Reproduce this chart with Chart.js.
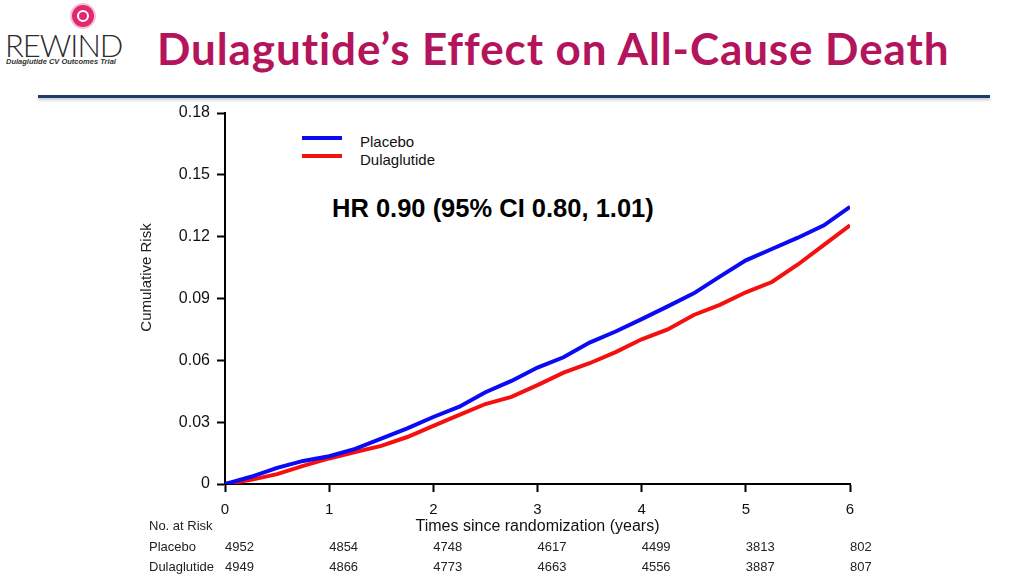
<!DOCTYPE html>
<html>
<head>
<meta charset="utf-8">
<script src="https://cdn.jsdelivr.net/npm/chart.js@4.4.1/dist/chart.umd.min.js"></script>
<style>
  body { margin: 0; width: 1024px; height: 576px; background: #fff; overflow: hidden; position: relative; font-family: "Liberation Sans", Arial, sans-serif; }
  #c { position: absolute; left: 0; top: 0; }
  .abs { position: absolute; white-space: nowrap; line-height: 1; }
  .title { left: 157px; top: 26px; font-family: Lato, sans-serif; font-weight: bold; font-size: 44px; letter-spacing: 0.9px; color: #b3145c; }
  .logo { left: 5px; top: 30px; font-family: Lato, sans-serif; font-weight: 300; font-size: 31px; letter-spacing: -1px; color: #2b2b2b; }
  .logosub { left: 6px; top: 58px; font-size: 7.5px; font-weight: bold; font-style: italic; color: #333; }
  .icon { left: 72px; top: 5px; width: 22px; height: 22px; border-radius: 50%; background: #e2286f; box-shadow: 0 0 0 2px #f7c3d6; }
  .icon div { position: absolute; left: 5px; top: 5px; width: 8px; height: 8px; border: 2px solid #fff; border-radius: 50%; }
  .rule { left: 38px; top: 95px; width: 952px; height: 3px; background: #1f3a6e; box-shadow: 0 2px 3px #c4c4c4; }
  .leg { left: 302px; width: 40px; height: 4px; }
  .legtxt { left: 360px; font-size: 15px; color: #111; }
  .hr { left: 332px; top: 196px; font-size: 25.5px; font-weight: bold; color: #000; }
</style>
</head>
<body>
<div class="abs icon"><div></div></div>
<div class="abs logo">REWIND</div>
<div class="abs logosub">Dulaglutide CV Outcomes Trial</div>
<div class="abs title">Dulagutide’s Effect on All-Cause Death</div>
<div class="abs rule"></div>
<div class="abs leg" style="top:136px;background:#0a0af5;"></div>
<div class="abs leg" style="top:154px;background:#f51010;"></div>
<div class="abs legtxt" style="top:134px;">Placebo</div>
<div class="abs legtxt" style="top:152px;">Dulaglutide</div>
<div class="abs hr">HR 0.90 (95% CI 0.80, 1.01)</div>
<canvas id="c" width="1024" height="576"></canvas>
<script>
var years = [0, 0.25, 0.5, 0.75, 1, 1.25, 1.5, 1.75, 2, 2.25, 2.5, 2.75, 3, 3.25, 3.5, 3.75, 4, 4.25, 4.5, 4.75, 5, 5.25, 5.5, 5.75, 6];
var placebo = [0, 0.0035, 0.0078, 0.0112, 0.0135, 0.0170, 0.0220, 0.0270, 0.0325, 0.0375, 0.0445, 0.0500, 0.0565, 0.0615, 0.0686, 0.0740, 0.0800, 0.0862, 0.0925, 0.1006, 0.1085, 0.1140, 0.1195, 0.1255, 0.1345];
var dulaglutide = [0, 0.0020, 0.0048, 0.0088, 0.0124, 0.0155, 0.0185, 0.0228, 0.0282, 0.0335, 0.0388, 0.0423, 0.0480, 0.0540, 0.0586, 0.0640, 0.0702, 0.0750, 0.0820, 0.0869, 0.0930, 0.0980, 0.1065, 0.1160, 0.1255];
var yTickLabels = ['0', '0.03', '0.06', '0.09', '0.12', '0.15', '0.18'];
var xTickLabels = ['0', '1', '2', '3', '4', '5', '6'];
var riskYears = [0, 1, 2, 3, 4, 5, 6];
var riskPlacebo = [4952, 4854, 4748, 4617, 4499, 3813, 802];
var riskDulaglutide = [4949, 4866, 4773, 4663, 4556, 3887, 807];

var font = '"Liberation Sans", Arial, sans-serif';

function points(vals) {
	var out = [];
	for (var i in years) {
		out.push({x: years[i], y: vals[i]});
	}
	return out;
}

// y title and the numbers-at-risk table under the x axis
var riskTable = {
	id: 'riskTable',
	afterDraw: function(chart) {
		var ctx = chart.ctx;
		var xs = chart.scales.x;
		var area = chart.chartArea;
		ctx.save();
		ctx.fillStyle = '#222';
		ctx.font = '15px ' + font;
		ctx.textAlign = 'center';
		ctx.textBaseline = 'middle';
		ctx.translate(area.left - 78, (area.top + area.bottom) / 2 - 21);
		ctx.rotate(-Math.PI / 2);
		ctx.fillText('Cumulative Risk', 0, 0);
		ctx.restore();

		ctx.save();
		ctx.fillStyle = '#222';
		ctx.font = '13px ' + font;
		ctx.textAlign = 'left';
		ctx.textBaseline = 'middle';
		ctx.fillText('No. at Risk', 149, 526);
		ctx.fillText('Placebo', 149, 547);
		ctx.fillText('Dulaglutide', 149, 567);
		for (var i in riskYears) {
			var px = xs.getPixelForValue(riskYears[i]);
			ctx.fillText(String(riskPlacebo[i]), px, 547);
			ctx.fillText(String(riskDulaglutide[i]), px, 567);
		}
		ctx.restore();
	}
};

var ctx = document.getElementById('c');

var chart = new Chart(ctx, {
	type: 'line',
	data: {
		datasets: [
			{
				label: 'Placebo',
				data: points(placebo),
				borderColor: '#0a0af5',
				borderWidth: 4,
				pointRadius: 0,
				tension: 0,
				fill: false
			},
			{
				label: 'Dulaglutide',
				data: points(dulaglutide),
				borderColor: '#f51010',
				borderWidth: 4,
				pointRadius: 0,
				tension: 0,
				fill: false
			}
		]
	},
	options: {
		responsive: false,
		animation: false,
		layout: { padding: { left: 130, right: 174, top: 113, bottom: 0 } },
		plugins: {
			legend: { display: false },
			tooltip: { enabled: false }
		},
		scales: {
			x: {
				type: 'linear',
				min: 0,
				max: 6,
				afterFit: function(s) { s.height = 92; },
				border: { display: true, color: '#000', width: 2 },
				grid: { drawOnChartArea: false, drawTicks: true, tickLength: 8, tickWidth: 2, tickColor: '#000' },
				ticks: {
					stepSize: 1,
					padding: 9,
					color: '#111',
					font: { family: font, size: 15 },
					callback: function(v, i) { return xTickLabels[i]; }
				},
				title: {
					display: true,
					text: 'Times since randomization (years)',
					color: '#111',
					font: { family: font, size: 16 },
					padding: { top: 0, bottom: 40 }
				}
			},
			y: {
				min: 0,
				max: 0.18,
				afterFit: function(s) { s.width = 95; },
				border: { display: true, color: '#000', width: 2 },
				grid: { drawOnChartArea: false, drawTicks: true, tickLength: 8, tickWidth: 2, tickColor: '#000' },
				ticks: {
					stepSize: 0.03,
					padding: 7,
					color: '#111',
					font: { family: font, size: 16 },
					callback: function(v, i) { return yTickLabels[i]; }
				}
			}
		}
	},
	plugins: [riskTable]
});
</script>
</body>
</html>
